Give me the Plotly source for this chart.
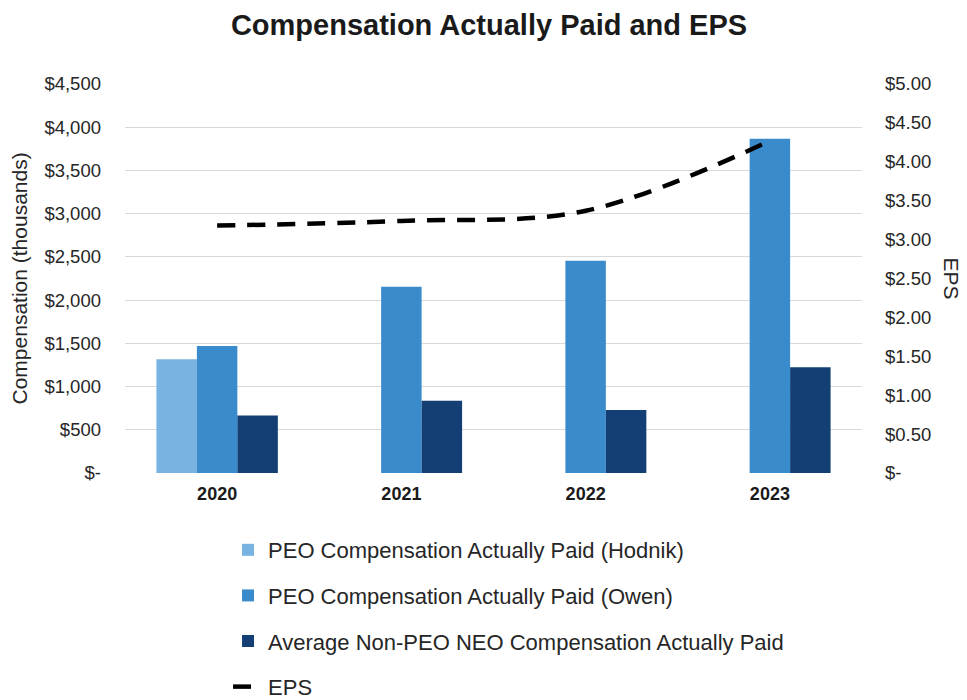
import plotly.graph_objects as go

years = ["2020", "2021", "2022", "2023"]
peo_hodnik = [1316, None, None, None]
peo_owen = [1470, 2155, 2455, 3868]
non_peo = [665, 835, 730, 1224]
eps = [3.18, 3.24, 3.37, 4.27]

left_tickvals = [0, 500, 1000, 1500, 2000, 2500, 3000, 3500, 4000, 4500]
left_ticktext = ["$-", "$500", "$1,000", "$1,500", "$2,000", "$2,500", "$3,000", "$3,500", "$4,000", "$4,500"]
right_tickvals = [0, 0.5, 1.0, 1.5, 2.0, 2.5, 3.0, 3.5, 4.0, 4.5, 5.0]
right_ticktext = ["$-", "$0.50", "$1.00", "$1.50", "$2.00", "$2.50", "$3.00", "$3.50", "$4.00", "$4.50", "$5.00"]

FONT = "Liberation Sans, Arial, sans-serif"
TXT = "#262626"

fig = go.Figure()
fig.add_trace(go.Bar(x=years, y=peo_hodnik, name="PEO Compensation Actually Paid (Hodnik)",
                     marker_color="#79B3E2", marker_line_width=0, legendgroup="a"))
fig.add_trace(go.Bar(x=years, y=peo_owen, name="PEO Compensation Actually Paid (Owen)",
                     marker_color="#3A8BCB", marker_line_width=0, legendgroup="b"))
fig.add_trace(go.Bar(x=years, y=non_peo, name="Average Non-PEO NEO Compensation Actually Paid",
                     marker_color="#133F74", marker_line_width=0, legendgroup="c"))
fig.add_trace(go.Scatter(x=years, y=eps, name="EPS", yaxis="y2", mode="lines",
                         line=dict(color="black", width=4.5, dash="18px,12px", shape="spline"),
                         legendgroup="d"))

fig.update_layout(
    width=959, height=692,
    margin=dict(l=117, r=105, t=76, b=227, autoexpand=False),
    paper_bgcolor="white", plot_bgcolor="white",
    font=dict(family=FONT, color=TXT),
    barmode="group", bargap=0.341, bargroupgap=0,
    title=dict(text="<b>Compensation Actually Paid and EPS</b>", x=0.5016, xref="container",
               xanchor="center", y=0.9754, yref="container", yanchor="middle",
               font=dict(size=29, color="#1a1a1a", family=FONT)),
    xaxis=dict(showgrid=False, showline=False, zeroline=False, automargin=False,
               tickfont=dict(size=18, color="#1a1a1a", family=FONT), ticklabelstandoff=8,
               tickprefix="<b>", ticksuffix="</b>"),
    yaxis=dict(range=[0, 4500], tickvals=left_tickvals, ticktext=left_ticktext, automargin=False,
               showgrid=True, gridcolor="#d9d9d9", gridwidth=1, zeroline=False, showline=False,
               tickfont=dict(size=18.5, color=TXT, family=FONT), ticklabelstandoff=23),
    yaxis2=dict(range=[0, 5], tickvals=right_tickvals, ticktext=right_ticktext, overlaying="y",
                side="right", showgrid=False, zeroline=False, showline=False, automargin=False,
                tickfont=dict(size=18.5, color=TXT, family=FONT), ticklabelstandoff=22),
    legend=dict(orientation="v", x=0.1398, xanchor="left", y=-0.144, yanchor="top",
                traceorder="grouped", tracegroupgap=14,
                font=dict(size=22, color=TXT, family=FONT), bgcolor="rgba(0,0,0,0)"),
    annotations=[
        dict(text="Compensation (thousands)", x=-0.1425, y=0.5, xref="paper", yref="paper",
             xanchor="center", yanchor="middle", textangle=-90, showarrow=False,
             font=dict(size=21, color=TXT, family=FONT)),
        dict(text="EPS", x=1.122, y=0.5, xref="paper", yref="paper",
             xanchor="center", yanchor="middle", textangle=90, showarrow=False,
             font=dict(size=21, color=TXT, family=FONT)),
    ],
)

fig.write_html("out.html")
